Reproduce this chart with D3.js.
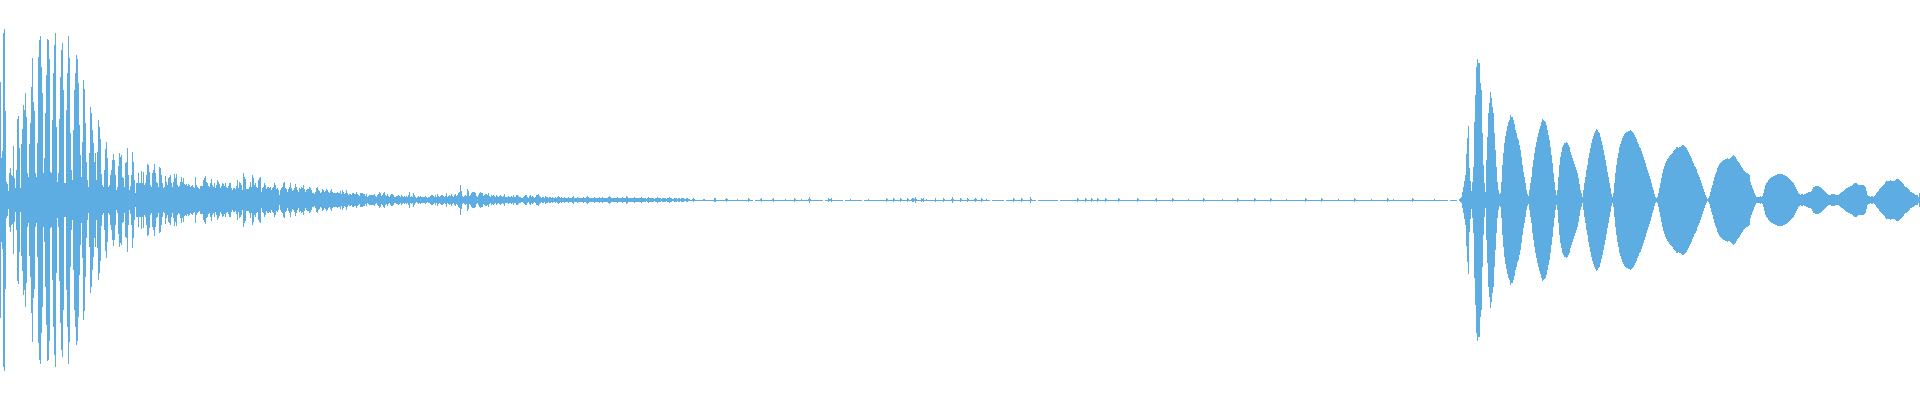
<!DOCTYPE html>
<html>
<head>
<meta charset="utf-8">
<script src="https://cdn.jsdelivr.net/npm/d3@7"></script>
<style>
  html, body { margin: 0; padding: 0; background: #ffffff; overflow: hidden; }
  svg { display: block; }
</style>
</head>
<body>
<svg id="chart" width="1920" height="400"></svg>
<script>
// Peak amplitude per column (symmetric waveform), full scale = ±200
const attack = [
118,42,49,167,171,89,18,16,9,27,
32,25,24,54,22,12,30,81,84,52,
12,56,71,95,90,107,83,27,23,56,
77,113,142,98,89,27,23,57,143,160,
164,133,107,27,42,87,125,161,160,141,
28,27,80,127,155,167,73,18,27,81,
123,150,157,110,17,17,90,127,164,142,
67,30,20,70,110,127,145,141,117,75,
45,23,58,120,111,77,38,20,13,47,
93,87,70,57,38,47,20,48,80,73
];
const decay = [
61,26,15,13,30,51,58,42,13,15,
25,30,40,46,40,25,10,13,34,47,
43,45,23,22,13,37,38,52,25,10,
14,25,48,38,20,7,17,17,27,17,
17,29,17,28,15,17,25,36,35,28,
15,13,27,30,36,27,18,17,13,33,
32,25,17,12,13,24,18,15,22,23,
25,17,13,18,26,22,26,15,13,14,
18,23,18,22,16,15,16,14,16,15,
13,14,15,13,12,23,15,13,12,11
];
const tail = [
14,14,14,20,22,24,18,17,14,13,
17,21,15,13,17,12,15,20,18,16,
12,14,17,16,14,17,13,12,14,17,
17,12,10,12,12,11,14,20,12,18,
17,15,10,27,23,21,11,11,11,13,
18,13,25,22,15,17,13,12,20,22,
23,8,12,13,17,15,11,13,13,12,
13,10,12,13,17,15,11,12,10,5,
10,12,13,17,18,12,11,8,11,13,
17,12,9,10,12,16,13,10,8,12,
11,13,12,15,11,8,10,11,11,13,
12,10,7,7,6,8,12,13,10,9,
7,8,11,10,8,9,11,10,8,7,
9,11,8,7,7,7,7,8,7,7,
9,6,10,8,6,7,10,7,5,6,
6,5,7,7,6,6,8,6,5,4
];
const fade = [
7,7,7,6,6,4,6,3,4,5,
5,5,5,5,6,4,3,5,6,8,
7,4,5,7,8,5,4,6,4,3,
5,6,6,5,3,3,4,4,5,4,
3,5,4,3,4,3,4,3,5,8,
3,4,3,7,5,3,2,3,4,3,
4,3,3,3,3,4,3,2,3,3,
4,5,5,4,3,5,3,6,4,3,
4,5,5,4,3,4,7,3,4,5,
4,6,4,3,5,6,4,5,7,8,
15,9,4,3,4,5,4,11,9,4,
5,7,8,8,8,7,4,3,5,7,
8,7,7,4,5,6,6,5,7,4,
3,5,4,5,4,3,5,4,3,4,
5,4,3,4,6,3,3,3,4,3,
3,4,3,5,3,3,5,5,4,3,
3,2,2,3,4,5,5,3,2,4,
5,3,4,3,2,3,5,5,6,4,
3,2,3,3,2,4,3,3,2,3,
3,2,3,2,2,3,2,3,4,3
];
const hush = [
2,3,2,2,3,2,2,2,3,2,
2,2,3,4,2,2,2,3,2,2,
2,2,2,3,2,2,3,4,3,2,
2,2,2,2,3,2,2,2,2,3,
2,2,3,2,2,2,2,2,3,4,
3,2,2,2,2,2,2,3,2,2,
2,2,3,2,2,2,4,3,2,2,
2,2,2,2,3,2,2,2,2,2,
2,3,2,2,2,2,1.5,2,3,2,
2,2,2,2,1.5,2,2,3,2,2,
2,1.5,2,2,2,2,1.5,2,2,3,
2,2,1.5,1.5,2,2,2,1.5,2,2,
1.5,2,2,2,1.5,1.5,2,2,1.5,1.5
];
const silence = [
0.5,0.5,1,2,1,0.5,0.5,0.5,0.5,0.5,
0.5,0.5,0.5,1.5,1,0.5,0.5,0.5,0.5,0.5,
0.5,0.5,0.5,0.5,2,2,0.5,0.5,0.5,0.5,
0.5,0.5,0.5,0.5,0.5,1,2,1,0.5,0.5,
0.5,0.5,0.5,0.5,0.5,0.5,0.5,1.5,0.5,0.5,
0.5,0.5,0.5,0.5,0.5,0.5,0.5,0.5,2,1,
0.5,0.5,0.5,0,0,0.5,0.5,0.5,0.5,0.5,
1.5,2,0.5,0.5,0.5,0.5,0.5,0.5,0.5,0.5,
0.5,0.5,1,2,0.5,0.5,0.5,0.5,0.5,0.5,
0.5,0.5,0.5,0.5,0.5,1.5,0.5,0.5,0.5,0.5,
0.5,0.5,0.5,0.5,2,1,0.5,0.5,0.5,0.5,
0.5,1,0.5,0.5,0.5,0.5,0.5,0.5,1,3,
1,0.5,0.5,0.5,0.5,0.5,0.5,0.5,0.5,0.5,
0.5,0.5,0.5,0,0,0.5,0.5,0.5,2,1.5,
1.5,2,0.5,0.5,0.5,0.5,0.5,0.5,0.5,0.5,
0.5,0.5,0.5,0,0,0.5,0.5,0.5,0.5,0.5,
1.5,0.5,0.5,0.5,0.5,0.5,0.5,0.5,0.5,0.5,
0.5,0.5,0,0,0.5,0.5,0.5,0.5,1.5,0.5,
0.5,0.5,0.5,0.5,0.5,0.5,0.5,0.5,0.5,0.5,
0.5,0.5,0.5,0.5,0.5,0.5,2,1,0.5,0.5,
0.5,0.5,0.5,2,1,0.5,0.5,0.5,0.5,0.5,
2,1,0.5,0.5,0.5,0.5,0.5,2,1,0.5,
0.5,1,2,2,1,3,1,0.5,0.5,0.5,
0.5,2,1.5,2,0.5,0.5,1.5,0.5,0.5,0.5,
0.5,0.5,0.5,0.5,0.5,2,0.5,0.5,0.5,0.5,
0.5,0.5,0.5,2,1,0.5,0.5,0.5,0.5,0.5,
0.5,1,3,1,0.5,0.5,0.5,0.5,0.5,0.5,
2,1,0.5,0.5,0.5,0.5,0.5,2,1,0.5,
0.5,0.5,0.5,0.5,1,2,1,0.5,0.5,0.5,
0.5,2,1,0.5,0.5,0.5,1.5,0.5,0.5,0.5,
0,0,0.5,0.5,0.5,0.5,0.5,0.5,0.5,0.5,
0.5,0.5,0.5,0.5,0,0,0.5,0.5,0.5,0.5,
0.5,0.5,0.5,2,1,0.5,0.5,0.5,0.5,0.5,
0.5,2,1,0.5,0.5,0.5,0.5,0.5,0.5,0.5,
3,1,0.5,0.5,0.5,0.5,0,0,0.5,0.5,
0.5,0.5,0.5,0.5,0.5,0.5,0.5,0.5,0.5,0.5,
0.5,0.5,0.5,0.5,0.5,0.5,0.5,0.5,0,0,
0.5,0.5,0.5,0.5,0.5,0.5,0.5,0.5,0.5,0.5,
0.5,0.5,0.5,0.5,0.5,0.5,0.5,2,1,0.5,
0.5,0.5,0.5,0.5,0.5,2,1,0.5,0.5,0.5,
0.5,2,1,0.5,0.5,0.5,0.5,2,1,0.5,
0.5,0.5,0.5,0.5,0.5,2,1,0.5,0.5,0.5,
0.5,0.5,0.5,0.5,0.5,0.5,0.5,0.5,2,1,
0.5,0.5,0.5,0.5,0.5,0.5,0.5,0.5,0.5,0.5,
0.5,0.5,0.5,0.5,0.5,0.5,0.5,2,1,0.5,
0.5,0.5,0.5,0.5,0.5,0.5,0.5,0.5,0.5,0.5,
0.5,0.5,0.5,0.5,0.5,1,2,0.5,0.5,0.5,
0.5,0.5,0.5,0.5,0.5,0.5,0.5,0.5,0.5,0.5,
0.5,0.5,2,1,0.5,0.5,0.5,0.5,0.5,0.5,
0.5,0.5,0.5,0.5,0.5,0.5,0.5,0.5,1.5,0.5,
0.5,0.5,0.5,0.5,0.5,0.5,0.5,0.5,0.5,0.5,
0.5,0.5,0.5,2,1,0.5,0.5,0.5,0.5,0.5,
0.5,0.5,0.5,0.5,0.5,0.5,0.5,0.5,0.5,0.5,
0.5,0.5,1.5,0.5,0.5,0.5,0.5,0.5,0.5,0.5,
0.5,0.5,0.5,0.5,0.5,0.5,0.5,2,1,0.5,
0.5,0.5,0.5,0.5,0.5,0.5,0.5,0.5,0.5,0.5,
0.5,0.5,0.5,0.5,2,1,0.5,0.5,0.5,0.5,
0.5,0.5,0.5,0.5,0.5,0.5,0.5,0.5,0.5,0.5,
2,1,0.5,0.5,0.5,0.5,0.5,0.5,0.5,0.5,
0.5,0.5,0.5,0.5,0.5,0.5,1.5,0.5,0.5,0.5,
0.5,0.5,0.5,0.5,0.5,0.5,0.5,0.5,0.5,0.5,
0.5,0.5,0.5,0.5,0.5,2,1,0.5,0.5,0.5,
0.5,0.5,0.5,0.5,0.5,0.5,0.5,0.5,0.5,0.5,
0.5,2,1,0.5,0.5,0.5,0.5,0.5,0.5,0.5,
0.5,0.5,0.5,0.5,0.5,0.5,0.5,0.5,1.5,0.5,
0.5,0.5,0.5,0.5,0.5,0.5,0.5,0.5,0.5,0.5,
0.5,0.5,0.5,0.5,2,1,0.5,0.5,0.5,0.5,
0.5,0.5,0.5,0.5,0.5,0.5,0.5,0.5,0.5,0.5,
0.5,1.5,0.5,0.5,0.5,0.5,0.5,0.5,0.5,0.5,
0.5,0.5,0.5,0.5,0.5,0.5,0.5,2,1,0.5,
0.5,0.5,0.5,1.5,0.5,0.5,0.5,0.5,0.5,0.5,
0.5,0.5,0.5,0.5,0.5,0.5,0.5,0.5,0.5,0.5,
0.5,0.5,2,1,0.5,0.5,0.5,0.5,0.5,0.5,
0.5,0.5,0.5,0.5,0.5,0.5,0.5,0.5,0.5,0.5,
0.5,0.5,0.5,0.5,1.5,0.5,0.5,0.5,0.5,0.5,
0.5,0.5,0.5,0.5,0.5,0.5,0.5,0.5,0,0,
0.5,0.5,0.5,0.5,0.5,0.5,0.5,0,0,1
];
const onset = [
2,3,8,13,19,25,46,62,74,32,
19,9,18,33,78,105,133,141,137,137,
117,110,67,35,17,8,40,63,87,97,
108,102,93,87,67,50,33,18,10,6,
7,18,35,47,57,64,69,74,78,80,
85,83,83,80,76,70,67,62,60,55,
50,43,35,28,23,17,10,6,4,10,
17,23,33,40,47,53,58,63,67,71,
74,78,81,80,79,78,75,70,65,60,
53,45,37,27,18,10,5,10,23,35,
43,48,53,55,57,57,58,57,55,53,
48,45,42,39,36,33,30,27,22,16
];
const swells = [
10,7,3,10,17,23,30,35,42,47,
52,57,61,64,67,69,71,70,68,67,
63,59,55,50,45,40,34,28,23,17,
12,6,3,7,17,27,35,42,47,53,
56,59,62,64,66,67,68,68,69,69,
70,69,68,67,65,63,61,58,56,53,
52,49,46,43,40,37,33,30,27,24,
21,17,13,10,6,3,2,3,7,12,
17,22,27,31,34,37,39,41,42,44,
45,46,47,49,50,51,53,53,52,53,
53,54,55,55,54,53,52,50,48,46,
44,42,39,37,34,33,31,27,25,23,
20,17,14,11,8,5,3,1,2,4,
8,12,15,19,23,26,28,32,34,36,
37,38,39,40,40,41,41,42,41,41,
42,43,44,45,44,43,41,39,38,37,
35,33,32,30,29,28,27,27,26,25
];
const ringout = [
18,15,12,10,7,5,3,3,3,3,
4,3,4,7,11,15,17,18,20,21,
22,23,23,24,24,25,25,26,26,26,
26,26,26,25,25,24,24,23,22,21,
20,19,18,17,15,13,11,9,7,6,
5,6,6,5,6,6,7,7,8,8,
8,9,11,13,13,14,14,14,14,13,
13,12,11,10,9,8,7,6,5,5,
5,6,6,6,6,5,5,5,5,6,
7,8,8,9,10,11,12,12,13,13,
14,14,15,16,17,17,17,16,15,15,
15,15,15,15,14,13,9,5,4,4,
3,4,4,3,4,5,7,8,9,11,
12,13,14,15,16,18,19,19,19,19,
20,19,19,19,19,20,21,21,21,20,
19,18,17,16,14,13,13,12,11,10,
8,8,7,7,6,5,5,5,3,7
];

const peaks = [].concat(attack, decay, tail, fade, hush, silence, onset, swells, ringout);

const W = 1920, H = 400;
const svg = d3.select("#chart");
const x = d3.scaleLinear().domain([0, peaks.length]).range([0, W]);
const y = d3.scaleLinear().domain([-200, 200]).range([H, 0]);

svg.append("g")
  .attr("shape-rendering", "crispEdges")
  .selectAll("rect")
  .data(peaks.map((v, i) => ({ i, v })).filter(d => d.v > 0))
  .join("rect")
  .attr("x", d => x(d.i))
  .attr("width", d => x(d.i + 1) - x(d.i))
  .attr("y", d => Math.round(y(d.v)))
  .attr("height", d => Math.max(1, Math.round(y(-d.v)) - Math.round(y(d.v))))
  .attr("fill", "#5dade2");
</script>
</body>
</html>
